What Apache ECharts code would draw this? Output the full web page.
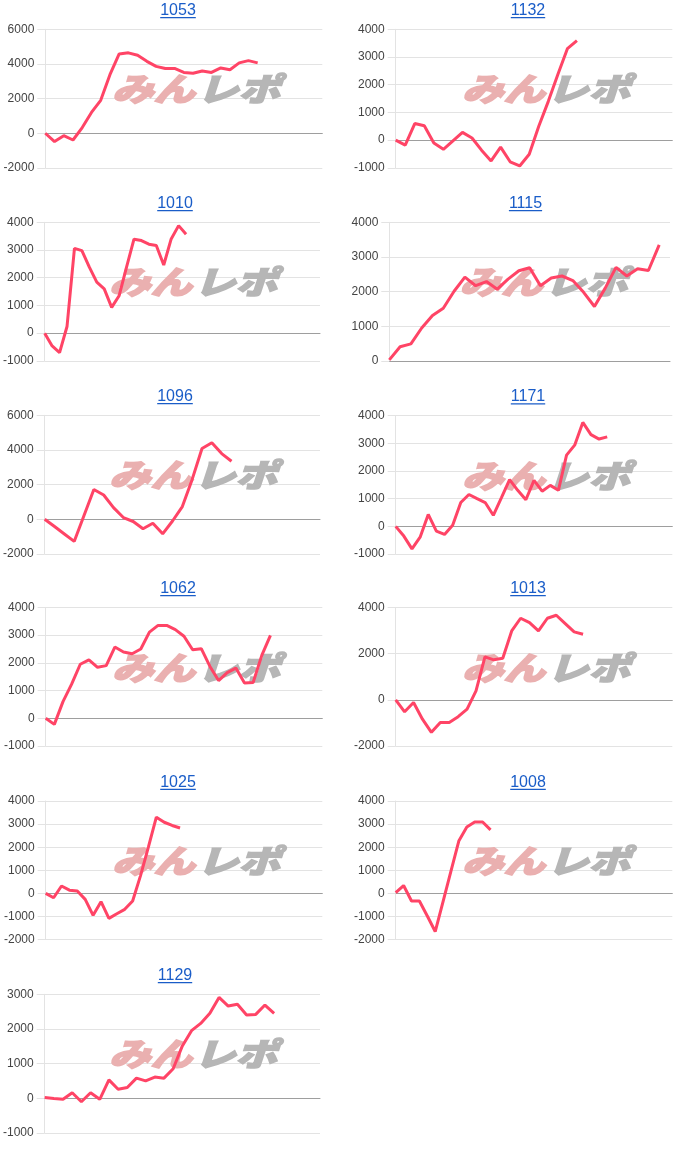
<!DOCTYPE html>
<html><head><meta charset="utf-8">
<script src="https://cdn.jsdelivr.net/npm/echarts@6/dist/echarts.min.js"></script>
<style>html,body{margin:0;padding:0;background:#fff}#c{width:700px;height:1158px}</style>
</head><body><div id="c"></div>
<script>
// ---- data ----
const titles = ['1053','1132','1010','1115','1096','1171','1062','1013','1025','1008','1129'];
const slotCounts = [31,30,38,27,29,35,33,32,36,36,31];
const yMins  = [-2000,-1000,-1000,0,-2000,-1000,-1000,-2000,-2000,-2000,-1000];
const yMaxs  = [6000,4000,4000,4000,6000,4000,4000,4000,4000,4000,3000];
const ySteps = [2000,1000,1000,1000,2000,1000,1000,2000,1000,1000,1000];

const s1053 = [0,-480,-140,-390,330,1200,1900,3380,4580,4640,4500,4150,3860,3740,3740,3510,3460,3590,3510,3770,3670,4060,4190,4060];
const s1132 = [0,-180,600,520,-100,-330,-25,280,80,-360,-750,-250,-780,-930,-510,500,1400,2370,3300,3590];
const s1010 = [0,-460,-700,240,3060,2980,2380,1840,1600,930,1350,2380,3390,3340,3210,3160,2460,3400,3880,3570];
const s1115 = [30,410,490,950,1310,1520,2010,2420,2170,2290,2070,2360,2600,2690,2170,2390,2450,2320,1980,1570,2100,2700,2450,2660,2610,3350];
const s1096 = [0,-420,-850,-1280,220,1720,1400,670,100,-130,-550,-230,-840,-100,730,2300,4080,4420,3790,3350];
const s1171 = [0,-350,-810,-390,430,-170,-290,40,860,1150,1000,860,400,1040,1690,1300,960,1660,1270,1480,1300,2570,2930,3750,3310,3150,3230];
const s1062 = [0,-220,600,1230,1950,2110,1840,1900,2570,2390,2330,2500,3110,3350,3350,3200,2960,2470,2510,1870,1360,1650,1810,1270,1290,2270,2990];
const s1013 = [0,-520,-120,-840,-1410,-980,-980,-730,-400,390,1860,1730,1800,2980,3530,3340,2980,3530,3660,3300,2940,2840];
const s1025 = [0,-190,320,140,100,-260,-950,-360,-1080,-880,-690,-330,770,2010,3300,3080,2940,2830];
const s1008 = [30,340,-330,-330,-980,-1650,-340,970,2280,2870,3090,3090,2750];
const s1129 = [20,-10,-30,160,-100,160,-30,530,260,310,580,500,610,580,850,1510,1950,2160,2450,2910,2660,2710,2400,2420,2690,2450];
const seriesData = [s1053,s1132,s1010,s1115,s1096,s1171,s1062,s1013,s1025,s1008,s1129];

// ---- layout (pixels) ----
const layout = [
  {cx:178,   gl:45.3,  gr:322.3, top:29.3},
  {cx:528,   gl:395.7, gr:672.3, top:29.3},
  {cx:175,   gl:43.3,  gr:320,   top:222.3},
  {cx:525.5, gl:389.3, gr:670,   top:222.3},
  {cx:175,   gl:43.3,  gr:320,   top:415.3},
  {cx:528,   gl:395.7, gr:672.3, top:415.5},
  {cx:178,   gl:45.7,  gr:322.3, top:607.4},
  {cx:528,   gl:395.7, gr:672.3, top:607.4},
  {cx:178,   gl:45.7,  gr:322.3, top:801},
  {cx:528,   gl:395.7, gr:672.3, top:801},
  {cx:175,   gl:43.3,  gr:320,   top:994.3}
];
const plotH = 138.6;
const FONT = 'Arial, "Liberation Sans", sans-serif';
const LINK = '#1a5dc8';
const WM_FONT = 'italic 900 32px "Noto Sans CJK JP", "Noto Sans CJK SC"';

const cv = document.createElement('canvas').getContext('2d');
cv.font = '16px ' + FONT;

const grid = [], xAxis = [], yAxis = [], series = [], graphic = [];
titles.forEach((t, i) => {
  const L = layout[i];
  grid.push({left: L.gl, top: L.top, width: L.gr - L.gl, height: plotH, containLabel: false});
  xAxis.push({
    type: 'category', gridIndex: i, boundaryGap: false,
    data: Array.from({length: slotCounts[i]}, (_, k) => String(k + 1)),
    axisLine: {show: true, onZero: true, lineStyle: {color: '#9e9e9e', width: 1}},
    axisTick: {show: false}, axisLabel: {show: false}, splitLine: {show: false}
  });
  yAxis.push({
    type: 'value', gridIndex: i, min: yMins[i], max: yMaxs[i], interval: ySteps[i],
    axisLine: {show: true, lineStyle: {color: '#e3e3e3'}},
    axisTick: {show: true, length: 8, lineStyle: {color: '#e3e3e3'}},
    axisLabel: {color: '#444', fontSize: 12, fontFamily: FONT, margin: 11, formatter: v => String(v)},
    splitLine: {show: true, lineStyle: {color: '#e3e3e3', width: 1}}
  });
  series.push({
    type: 'line', xAxisIndex: i, yAxisIndex: i, data: seriesData[i],
    showSymbol: false, symbol: 'none', z: 5,
    lineStyle: {color: '#ff4466', width: 3}, animation: false
  });
  // title (link style)
  const w = cv.measureText(t).width;
  graphic.push({
    type: 'text', x: L.cx, y: L.top - 18.8, z: 10,
    style: {text: t, fill: LINK, font: '16px ' + FONT, align: 'center', verticalAlign: 'middle'}
  });
  graphic.push({
    type: 'rect', shape: {x: L.cx - w / 2, y: L.top - 12.3, width: w, height: 1.2}, z: 10,
    style: {fill: LINK}
  });
  // watermark
  const wx = L.cx + 18 - 84, wy = L.top + 60;
  graphic.push({
    type: 'text', x: wx, y: wy, scaleX: 1.3, z: 1,
    style: {text: 'みん', fill: '#eab0b0', stroke: '#eab0b0', lineWidth: 1.5, font: WM_FONT, align: 'left', verticalAlign: 'middle'}
  });
  graphic.push({
    type: 'text', x: wx + 85, y: wy, scaleX: 1.3, z: 1,
    style: {text: 'レポ', fill: '#b6b6b6', stroke: '#b6b6b6', lineWidth: 1.5, font: WM_FONT, align: 'left', verticalAlign: 'middle'}
  });
});

const chart = echarts.init(document.getElementById('c'), null, {renderer: 'canvas'});
chart.setOption({animation: false, grid, xAxis, yAxis, series, graphic});
</script>
</body></html>
